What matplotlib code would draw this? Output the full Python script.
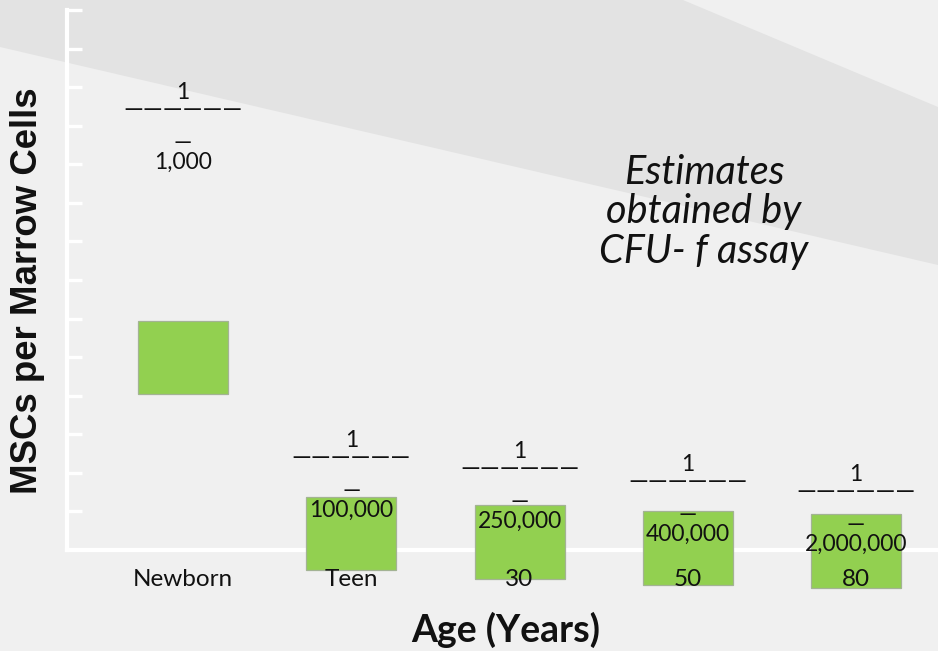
import matplotlib
matplotlib.use("Agg")
import matplotlib.pyplot as plt
from matplotlib.patches import Polygon

# ---- data ----
categories = ["Newborn", "Teen", "30", "50", "80"]
box_low = [4.04, -0.52, -0.75, -0.91, -0.98]
box_high = [5.93, 1.37, 1.17, 1.01, 0.93]
numerators = ["1", "1", "1", "1", "1"]
denominators = ["1,000", "100,000", "250,000", "400,000", "2,000,000"]
label_y = [11.46, 2.44, 2.15, 1.81, 1.56]
y_ticks = list(range(1, 15))

W, H = 938, 651
fig = plt.figure(figsize=(W / 100, H / 100), dpi=100)
fig.patch.set_facecolor("#f0f0f0")

# diagonal background band
def fp(x, y):
    return (x / W, 1 - y / H)

band = Polygon([fp(0, 0), fp(683, 0), fp(938, 107), fp(938, 265), fp(0, 47)],
               closed=True, transform=fig.transFigure, facecolor="#e3e3e3",
               edgecolor="none", zorder=-1)
fig.patches.append(band)

ax = fig.add_axes([67 / W, 101 / H, 871 / W, 540 / H])
ax.set_facecolor("none")
ax.set_xlim(-0.6894, 4.487)
ax.set_ylim(0, 14)

x = list(range(len(categories)))
heights = [h - l for h, l in zip(box_high, box_low)]
ax.bar(x, heights, bottom=box_low, width=0.535, color="#92d050",
       edgecolor="#a3b394", linewidth=0.9, clip_on=False, zorder=3)

# spines
for s in ["top", "right"]:
    ax.spines[s].set_visible(False)
ax.spines["left"].set_color("white")
ax.spines["left"].set_linewidth(3)
ax.spines["bottom"].set_color("white")
ax.spines["bottom"].set_linewidth(3)
ax.plot([0, 0], [0, 1], transform=ax.transAxes, color="#cfcfcf", lw=1,
        clip_on=False, zorder=2)
ax.plot([0, 1], [0, 0], transform=ax.transAxes, color="#c8c8c8", lw=1,
        clip_on=False, zorder=2)
ax.spines["left"].set_zorder(2.6)
ax.spines["bottom"].set_zorder(2.6)

ax.set_yticks(y_ticks)
ax.set_yticklabels([])
ax.tick_params(axis="y", direction="in", length=11, width=2.4, color="white")
ax.set_xticks([])

font = "Lato"
fs = 16.5

# category labels
for xi, lab in zip(x, categories):
    ax.annotate(lab, xy=(xi, 0), xytext=(0, -36), textcoords="offset pixels",
                ha="center", va="baseline", fontsize=17.5, family=font,
                color="#111111", zorder=4, annotation_clip=False)

# fraction labels
dash_line = "\u2014" * 6
for xi, ly, num, den in zip(x, label_y, numerators, denominators):
    for txt, off, size in [(num, 9, fs), (dash_line, -9, 18),
                           ("\u2014", -41, fs), (den, -61, fs)]:
        ax.annotate(txt, xy=(xi, ly), xytext=(0, off), textcoords="offset pixels",
                    ha="center", va="baseline", fontsize=size, family=font,
                    color="#111111", zorder=4, annotation_clip=False)

# axis titles
fig.text(506 / W, 1 - 642 / H, "Age (Years)", ha="center", va="baseline",
         fontsize=27, family=font, weight="bold", color="#111111")
fig.text(28 / W, 1 - 291 / H, "MSCs per Marrow Cells", ha="center", va="center",
         rotation=90, fontsize=26.4, family="Liberation Sans", weight="bold",
         color="#111111")

# annotation
fig.text(704 / W, 1 - 212 / H, "Estimates\nobtained by\nCFU- f assay",
         ha="center", va="center", multialignment="center", fontsize=28.5,
         family=font, style="italic", linespacing=1.08, color="#111111")

fig.savefig("out.png", dpi=100, facecolor=fig.get_facecolor())
